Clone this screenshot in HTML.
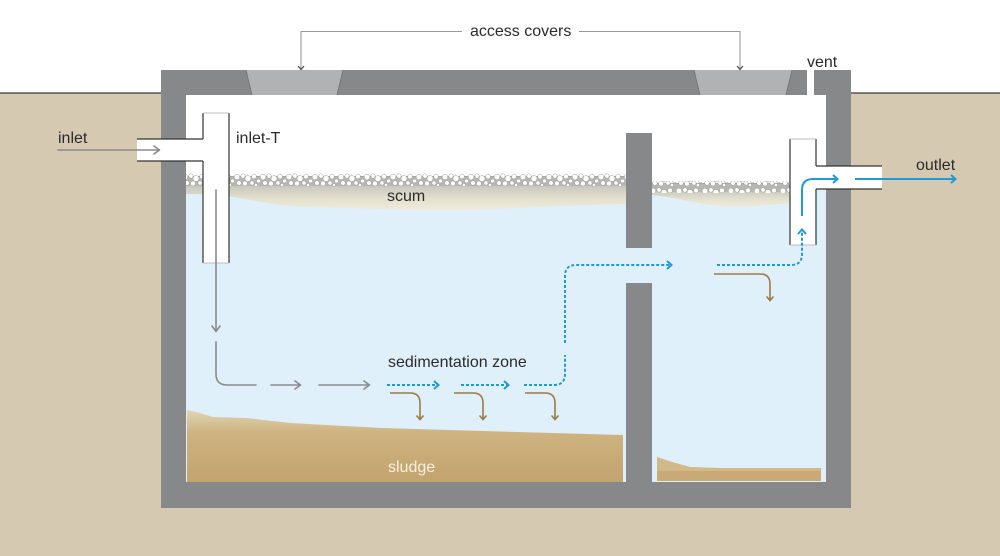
<!DOCTYPE html>
<html><head><meta charset="utf-8"><style>
html,body{margin:0;padding:0;background:#fff;}
svg{display:block;}
text{font-family:"Liberation Sans",sans-serif;font-size:16px;fill:#2b2b2b;}
</style></head><body>
<svg width="1000" height="556" viewBox="0 0 1000 556" xmlns="http://www.w3.org/2000/svg">
<defs>
<linearGradient id="scumG" x1="0" y1="0" x2="0" y2="1">
<stop offset="0" stop-color="#a4a4a2"/>
<stop offset="0.25" stop-color="#c9c8c0"/>
<stop offset="0.55" stop-color="#e2dfcc"/>
<stop offset="1" stop-color="#f4f1e5"/>
</linearGradient>
<linearGradient id="sludgeG" x1="0" y1="0" x2="0" y2="1">
<stop offset="0" stop-color="#e0d5b5"/>
<stop offset="0.3" stop-color="#ceb482"/>
<stop offset="0.6" stop-color="#c9ac78"/>
<stop offset="1" stop-color="#c3a36e"/>
</linearGradient>
<pattern id="bub" patternUnits="userSpaceOnUse" x="0" y="173" width="26" height="14">
<g fill="#fff" stroke="#9a9a98" stroke-width="0.5">
<circle cx="3" cy="4" r="2.8"/><circle cx="9" cy="3" r="2.2"/><circle cx="14" cy="5.5" r="3"/>
<circle cx="20" cy="3.5" r="2.4"/><circle cx="24.5" cy="8" r="2"/><circle cx="5" cy="10" r="2.3"/>
<circle cx="11" cy="10.5" r="2.5"/><circle cx="18" cy="10" r="2.1"/><circle cx="22" cy="12" r="1.6"/>
</g>
</pattern>
</defs>

<!-- ground -->
<rect x="0" y="93" width="1000" height="463" fill="#d6c9b1"/>
<line x1="0" y1="93" x2="1000" y2="93" stroke="#3a3a3a" stroke-width="1.2"/>

<!-- tank -->
<rect x="161" y="70" width="690" height="438" fill="#87888a"/>
<rect x="186" y="95" width="640" height="387" fill="#fff"/>

<!-- access covers -->
<polygon points="246,70 343,70 337,95 252,95" fill="#b1b2b4"/>
<line x1="246" y1="70" x2="252" y2="95" stroke="#707173" stroke-width="0.8"/>
<line x1="343" y1="70" x2="337" y2="95" stroke="#707173" stroke-width="0.8"/>
<polygon points="694,70 792,70 786,95 700,95" fill="#b1b2b4"/>
<line x1="694" y1="70" x2="700" y2="95" stroke="#707173" stroke-width="0.8"/>
<line x1="792" y1="70" x2="786" y2="95" stroke="#707173" stroke-width="0.8"/>
<!-- vent -->
<rect x="807" y="70" width="7" height="25" fill="#fff"/>

<!-- water behind baffle gap -->
<rect x="620" y="212" width="40" height="270" fill="#dff0fa"/>

<!-- left chamber scum -->
<rect x="186" y="176" width="440" height="40" fill="url(#scumG)"/>
<path d="M186,194 C205,194 220,195 240,198 C262,202 280,206 305,207 L420,210 C470,211 520,208 560,206 L626,204 L626,482 L186,482 Z" fill="#dff0fa"/>
<rect x="186" y="177" width="440" height="9" fill="#b6b6b3"/>
<rect x="186" y="173" width="440" height="14" fill="url(#bub)"/>

<!-- right chamber scum -->
<rect x="652" y="183" width="138" height="28" fill="url(#scumG)"/>
<path d="M652,195 C675,197 700,205 730,207 C760,207 775,204 790,203 L790,189 L826,189 L826,482 L652,482 Z" fill="#dff0fa"/>
<rect x="652" y="184" width="138" height="8" fill="#b6b6b3"/>
<rect x="652" y="181" width="138" height="12" fill="url(#bub)"/>

<!-- sludge -->
<path d="M187,410 L200,413 L213,417 L247,418 L290,423 L383,428 L483,431 L623,435 L623,482 L187,482 Z" fill="url(#sludgeG)"/>
<path d="M657,457 L672,462 L690,467 L720,468 L821,468 L821,481 L657,481 Z" fill="#c9a974"/>
<path d="M657,457 L672,462 L690,467 L720,468 L821,468 L821,471 L657,471 Z" fill="#d8c49a" opacity="0.6"/>

<!-- baffle -->
<rect x="626" y="133" width="26" height="115" fill="#87888a"/>
<rect x="626" y="283" width="26" height="200" fill="#87888a"/>

<!-- inlet pipe -->
<rect x="137" y="139" width="67" height="22" fill="#fff"/>
<rect x="203" y="113" width="26" height="150" fill="#fff"/>
<g stroke="#333" stroke-width="1.2" fill="none">
<line x1="137" y1="139" x2="203" y2="139"/>
<line x1="137" y1="161" x2="203" y2="161"/>
<line x1="203" y1="113" x2="203" y2="139"/>
<line x1="203" y1="161" x2="203" y2="263"/>
<line x1="229" y1="113" x2="229" y2="263"/>
</g>
<line x1="203" y1="113" x2="229" y2="113" stroke="#bdbdbd" stroke-width="1"/>
<line x1="203" y1="263" x2="229" y2="263" stroke="#bdbdbd" stroke-width="1"/>

<!-- outlet pipe -->
<rect x="790" y="139" width="26" height="106" fill="#fff"/>
<rect x="815" y="166" width="67" height="23" fill="#fff"/>
<g stroke="#333" stroke-width="1.2" fill="none">
<line x1="790" y1="139" x2="790" y2="245"/>
<line x1="816" y1="139" x2="816" y2="166"/>
<line x1="816" y1="189" x2="816" y2="245"/>
<line x1="816" y1="166" x2="882" y2="166"/>
<line x1="816" y1="189" x2="882" y2="189"/>
</g>
<line x1="790" y1="139" x2="816" y2="139" stroke="#bdbdbd" stroke-width="1"/>
<line x1="790" y1="245" x2="816" y2="245" stroke="#bdbdbd" stroke-width="1"/>

<!-- access covers connector -->
<g stroke="#9a9a9a" stroke-width="1.1" fill="none">
<path d="M301,69 L301,31.5 L462,31.5"/>
<path d="M579,31.5 L740,31.5 L740,69"/>
</g>
<g stroke="#444" stroke-width="1.1" fill="none">
<path d="M298,66 L301,69.5 L304,66"/>
<path d="M737,66 L740,69.5 L743,66"/>
</g>

<!-- gray arrows -->
<g stroke="#8a8a8a" stroke-width="1.6" fill="none" stroke-linecap="round" stroke-linejoin="round">
<path d="M58,150 L159,150"/><path d="M154,146 L159.5,150 L154,154"/>
<path d="M216,190 L216,331"/><path d="M212,326 L216,331.5 L220,326"/>
<path d="M216,342 L216,374 Q216,385 227,385 L256,385"/>
<path d="M271,385 L300,385"/><path d="M295,381 L300.5,385 L295,389"/>
<path d="M319,385 L369,385"/><path d="M364,381 L369.5,385 L364,389"/>
</g>

<!-- blue dotted arrows -->
<g stroke="#1e9ad6" stroke-width="2" fill="none" stroke-dasharray="3 2">
<path d="M387,385 L437,385"/>
<path d="M461,385 L507,385"/>
<path d="M524,385 L554,385 Q565,385 565,374 L565,355"/>
<path d="M565,343 L565,276 Q565,265 576,265 L670,265"/>
<path d="M717,265 L791,265 Q802,265 802,254 L802,231"/>
</g>
<g stroke="#1e9ad6" stroke-width="2" fill="none" stroke-linejoin="miter">
<path d="M434,381 L438.5,385 L434,389"/>
<path d="M504,381 L508.5,385 L504,389"/>
<path d="M667,261 L671.5,265 L667,269"/>
<path d="M798,234 L802,229.5 L806,234"/>
</g>
<!-- blue solid arrows -->
<g stroke="#1e9ad6" stroke-width="2" fill="none">
<path d="M802,216 L802,190 Q802,179 813,179 L837,179"/><path d="M833,175 L837.5,179 L833,183"/>
<path d="M855,179 L955,179"/><path d="M951,175 L955.5,179 L951,183"/>
</g>

<!-- brown arrows -->
<g stroke="#9b7b47" stroke-width="1.6" fill="none">
<path d="M390,393 L410,393 Q420,393 420,403 L420,419"/><path d="M416.5,415.5 L420,419.5 L423.5,415.5"/>
<path d="M454,393 L473,393 Q483,393 483,403 L483,419"/><path d="M479.5,415.5 L483,419.5 L486.5,415.5"/>
<path d="M525,393 L545,393 Q555,393 555,403 L555,419"/><path d="M551.5,415.5 L555,419.5 L558.5,415.5"/>
<path d="M714,274 L760,274 Q770,274 770,284 L770,300"/><path d="M766.5,296.5 L770,300.5 L773.5,296.5"/>
</g>

<!-- labels -->
<rect x="464" y="20" width="112" height="22" fill="#fff"/>
<text x="470" y="36">access covers</text>
<text x="807" y="67">vent</text>
<text x="58" y="143">inlet</text>
<text x="236" y="143">inlet-T</text>
<text x="387" y="201">scum</text>
<text x="916" y="170">outlet</text>
<text x="388" y="367">sedimentation zone</text>
<text x="388" y="472" style="fill:#f8f0de">sludge</text>
</svg>
</body></html>
